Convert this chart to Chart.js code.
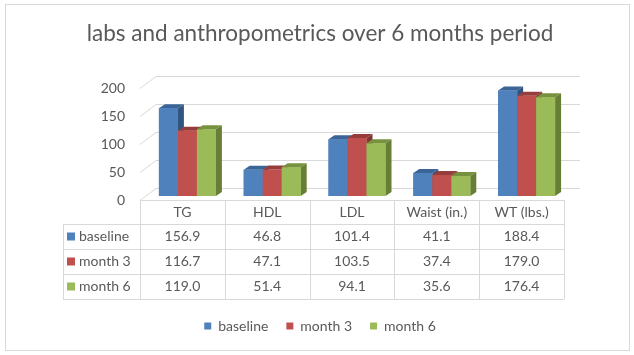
<!DOCTYPE html>
<html>
<head>
<meta charset="utf-8">
<script src="https://cdn.jsdelivr.net/npm/chart.js@4"></script>
<style>
  html, body { margin: 0; padding: 0; background: #fff; }
  canvas { display: block; }
</style>
</head>
<body>
<canvas id="grafico" width="634" height="355"></canvas>
<script>
const categorias = ['TG', 'HDL', 'LDL', 'Waist (in.)', 'WT (lbs.)'];
const seriesNomes = ['baseline', 'month 3', 'month 6'];
const baseline = [156.9, 46.8, 101.4, 41.1, 188.4];
const month3 = [116.7, 47.1, 103.5, 37.4, 179.0];
const month6 = [119.0, 51.4, 94.1, 35.6, 176.4];
const yMax = 200;
const yStep = 50;

const cores = ['#4F81BD', '#C0504D', '#9BBB59'];
const coresTopo = ['#3B6596', '#963C3A', '#77923F'];
const coresLado = ['#32557F', '#843432', '#677E36'];
const cinza = '#595959';
const linha = '#D9D9D9';
const fonte = 'Lato, "Liberation Sans", sans-serif';
const dx = 6, dy = -4; // profundidade das barras

// efeito 3d, paredes e tabela de dados
const tabela3d = {
    id: 'tabela3d',
    beforeDraw(chart) {
        const c = chart.ctx;
        c.save();
        c.fillStyle = '#fff';
        c.fillRect(0, 0, chart.width, chart.height);
        c.strokeStyle = linha;
        c.lineWidth = 1;
        c.strokeRect(5.5, 4.5, 624, 346);
        c.restore();
    },
    beforeDatasetsDraw(chart) {
        const { ctx: c, scales: { x, y } } = chart;
        const frente = x.left - 5, fundo = frente + 16;
        c.save();
        c.strokeStyle = linha;
        c.lineWidth = 1;
        c.beginPath();
        for (let v = 0; v <= yMax; v += yStep) {
            const py = Math.round(y.getPixelForValue(v));
            c.moveTo(frente, py + 4.5);
            c.lineTo(fundo, py - 7.5);
            c.lineTo(x.right + 11, py - 7.5);
        }
        c.stroke();
        c.restore();
    },
    afterDatasetsDraw(chart) {
        const c = chart.ctx;
        const metas = chart.data.datasets.map((d, i) => chart.getDatasetMeta(i));
        c.save();
        categorias.forEach((_, j) => {
            metas.forEach((meta, i) => {
                const { x: bx, y: by, base, width } = meta.data[j].getProps(['x', 'y', 'base', 'width'], true);
                const l = bx - width / 2, r = bx + width / 2;
                c.fillStyle = coresTopo[i];
                c.beginPath();
                c.moveTo(l, by); c.lineTo(l + dx, by + dy); c.lineTo(r + dx, by + dy); c.lineTo(r, by);
                c.closePath(); c.fill();
                c.fillStyle = coresLado[i];
                c.beginPath();
                c.moveTo(r, by); c.lineTo(r + dx, by + dy); c.lineTo(r + dx, base + dy); c.lineTo(r, base);
                c.closePath(); c.fill();
                c.fillStyle = cores[i];
                c.fillRect(l, by, width, base - by);
            });
        });
        c.restore();
    },
    afterDraw(chart) {
        const { ctx: c, scales: { x }, chartArea } = chart;
        const series = [baseline, month3, month6];
        const n = categorias.length;
        const colW = x.width / n;
        const esq = x.left - 5;
        const dir = esq + colW * n;
        const topo = Math.round(chartArea.bottom) + 4;
        const cab = 24, alt = 25;
        const rotEsq = esq - 77;
        const fim = topo + cab + alt * series.length;

        c.save();
        c.strokeStyle = linha;
        c.lineWidth = 1;
        c.beginPath();
        c.moveTo(esq, topo + 0.5); c.lineTo(dir, topo + 0.5);
        for (let k = 0; k <= series.length; k++) {
            const yy = topo + cab + k * alt + 0.5;
            c.moveTo(rotEsq, yy); c.lineTo(dir, yy);
        }
        for (let j = 0; j <= n; j++) {
            const xx = Math.round(esq + j * colW) + 0.5;
            c.moveTo(xx, topo); c.lineTo(xx, fim);
        }
        c.moveTo(rotEsq + 0.5, topo + cab); c.lineTo(rotEsq + 0.5, fim);
        c.stroke();

        c.fillStyle = cinza;
        c.font = '14px ' + fonte;
        c.textBaseline = 'middle';
        c.textAlign = 'center';
        categorias.forEach((cat, j) => {
            c.fillText(cat, esq + (j + 0.5) * colW, topo + cab / 2);
        });
        series.forEach((s, i) => {
            const yy = topo + cab + (i + 0.5) * alt;
            s.forEach((v, j) => {
                c.fillText(v.toFixed(1), esq + (j + 0.5) * colW, yy);
            });
            c.fillStyle = cores[i];
            c.fillRect(rotEsq + 4, yy - 4, 8, 8);
            c.fillStyle = cinza;
            c.textAlign = 'left';
            c.fillText(seriesNomes[i], rotEsq + 16, yy);
            c.textAlign = 'center';
        });
        c.restore();
    }
};

const ds = (label, data, i) => ({
    label: label,
    data: data,
    backgroundColor: cores[i],
    borderWidth: 0,
    categoryPercentage: 0.672,
    barPercentage: 1
});

const ctx = document.getElementById('grafico').getContext('2d');
const grafico = new Chart(ctx, {
    type: 'bar',
    data: {
        labels: categorias,
        datasets: [
            ds(seriesNomes[0], baseline, 0),
            ds(seriesNomes[1], month3, 1),
            ds(seriesNomes[2], month6, 2)
        ]
    },
    options: {
        responsive: false,
        animation: false,
        devicePixelRatio: 1,
        layout: { padding: { left: 11, right: 5, top: 0, bottom: 12 } },
        scales: {
            x: {
                grid: { display: false, drawTicks: false },
                border: { display: false },
                ticks: { display: false },
                afterFit: (s) => { s.height = 105; }
            },
            y: {
                min: 0,
                max: yMax,
                ticks: { stepSize: yStep, padding: 20, labelOffset: 4, color: cinza, font: { family: fonte, size: 14 } },
                grid: { display: false, drawTicks: false },
                border: { display: false },
                afterFit: (s) => { s.width = 134; }
            },
            // espaço à direita, sem marcas
            vazio: {
                type: 'linear',
                position: 'right',
                grid: { display: false, drawTicks: false },
                border: { display: false },
                ticks: { display: false },
                afterFit: (s) => { s.width = 60; }
            }
        },
        plugins: {
            title: {
                display: true,
                text: 'labs and anthropometrics over 6 months period',
                color: cinza,
                font: { family: fonte, size: 22.5, weight: 'normal' },
                padding: { top: 20, bottom: 37 }
            },
            legend: {
                position: 'bottom',
                labels: {
                    boxWidth: 7,
                    boxHeight: 7,
                    padding: 18,
                    color: cinza,
                    font: { family: fonte, size: 14 }
                }
            },
            tooltip: { enabled: false }
        }
    },
    plugins: [tabela3d]
});
</script>
</body>
</html>
